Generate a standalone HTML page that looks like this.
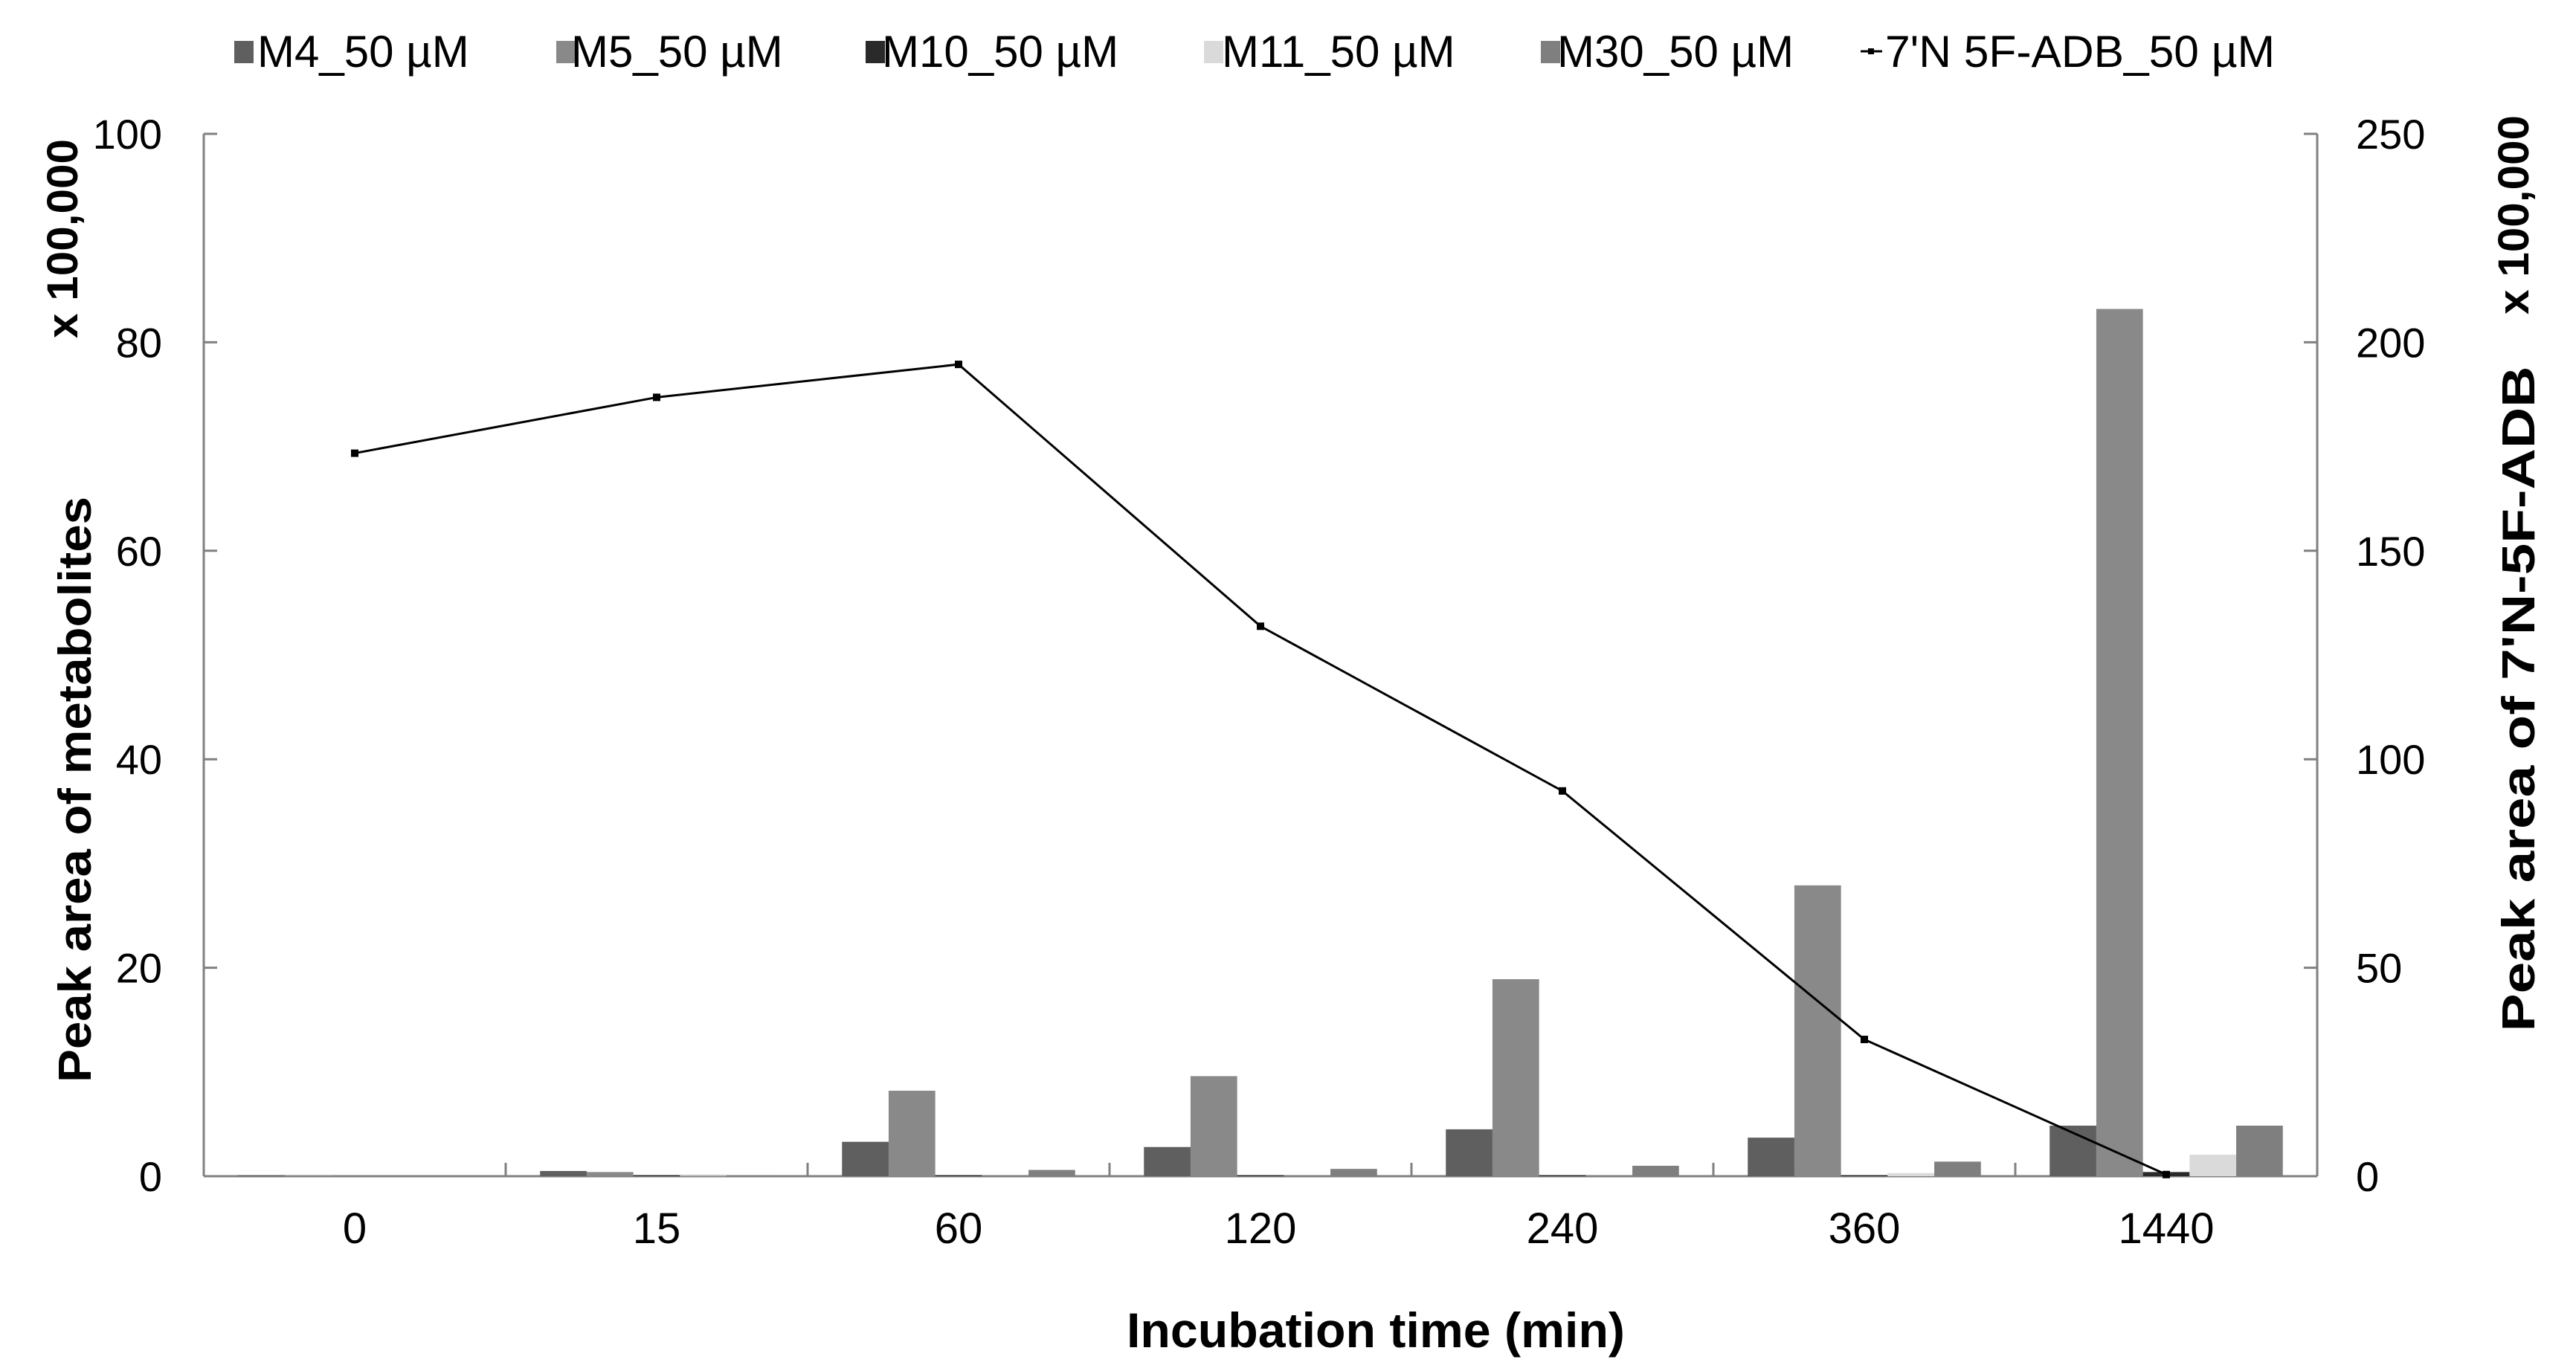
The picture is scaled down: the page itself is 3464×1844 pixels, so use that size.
<!DOCTYPE html>
<html><head><meta charset="utf-8"><style>
html,body{margin:0;padding:0;background:#fff;}
svg{display:block;font-family:"Liberation Sans",Arial,sans-serif;}
</style></head><body>
<svg id="chart" width="3464" height="1844" viewBox="0 0 3464 1844" xmlns="http://www.w3.org/2000/svg">
<g id="legend"></g>
<g id="axes"></g>
<g id="bars"></g>
<g id="line"></g>
<text x="0" y="0" transform="translate(122,1062) rotate(-90)" text-anchor="middle" font-weight="bold" font-size="62" textLength="788" lengthAdjust="spacingAndGlyphs">Peak  area of metabolites</text>
<text x="0" y="0" transform="translate(104,321) rotate(-90)" text-anchor="middle" font-weight="bold" font-size="58" textLength="268" lengthAdjust="spacingAndGlyphs">x 100,000</text>
<text x="0" y="0" transform="translate(3408,940) rotate(-90)" text-anchor="middle" font-weight="bold" font-size="62" textLength="895" lengthAdjust="spacingAndGlyphs">Peak area of 7'N-5F-ADB</text>
<text x="0" y="0" transform="translate(3400,289) rotate(-90)" text-anchor="middle" font-weight="bold" font-size="58" textLength="268" lengthAdjust="spacingAndGlyphs">x 100,000</text>
<text x="1850" y="1812" text-anchor="middle" font-weight="bold" font-size="66" textLength="670" lengthAdjust="spacingAndGlyphs">Incubation time (min)</text>
</svg>
<script>
const categories = ["0","15","60","120","240","360","1440"];
const seriesNames = ["M4_50 µM","M5_50 µM","M10_50 µM","M11_50 µM","M30_50 µM"];
const m4 = [0.1,0.5,3.3,2.8,4.5,3.7,4.85];
const m5 = [0.1,0.4,8.2,9.6,18.9,27.9,83.2];
const m10 = [0,0.1,0.1,0.1,0.1,0.1,0.4];
const m11 = [0,0.05,0,0,0,0.3,2.07];
const m30 = [0,0.1,0.6,0.7,1.0,1.4,4.85];
const parentValues = [173.4,186.8,194.7,131.9,92.4,32.8,0.4];
const leftTicks = [0,20,40,60,80,100];
const rightTicks = [0,50,100,150,200,250];
const lineName = "7'N 5F-ADB_50 µM";

const NS="http://www.w3.org/2000/svg";
const L=274,R=3116,T=180,B=1582;
const colors=["#5f5f5f","#898989","#2a2a2a","#dadada","#7f7f7f"];
const series=[m4,m5,m10,m11,m30];
const catW=(R-L)/categories.length, barW=62.7, groupOff=(catW-barW*5)/2;
function yL(v){return B-(v/100)*(B-T);}
function yR(v){return B-(v/250)*(B-T);}
function xCat(i){return L+i*catW;}
function mk(tag,attrs,parent){const e=document.createElementNS(NS,tag);for(const k in attrs)e.setAttribute(k,attrs[k]);parent.appendChild(e);return e;}
const axes=document.getElementById('axes'),bars=document.getElementById('bars'),line=document.getElementById('line'),legend=document.getElementById('legend');

let a=mk('line',{x1:L,y1:T,x2:L,y2:B,stroke:'#808080','stroke-width':3},axes);


a=mk('line',{x1:R,y1:T,x2:R,y2:B,stroke:'#808080','stroke-width':3},axes);


a=mk('line',{x1:L,y1:B,x2:R,y2:B,stroke:'#808080','stroke-width':3},axes);


leftTicks.forEach(v=>{
  const y=yL(v);
  mk('line',{x1:L,y1:y,x2:L+18,y2:y,stroke:'#808080','stroke-width':3},axes);
  const t=mk('text',{x:218,y:y+20,'text-anchor':'end','font-size':56},axes);
  t.textContent=v;
  
  
});
rightTicks.forEach(v=>{
  const y=yR(v);
  mk('line',{x1:R-18,y1:y,x2:R,y2:y,stroke:'#808080','stroke-width':3},axes);
  const t=mk('text',{x:3168,y:y+20,'text-anchor':'start','font-size':56},axes);
  t.textContent=v;
  
  
});
categories.forEach((c,i)=>{
  if(i>0) mk('line',{x1:xCat(i),y1:B,x2:xCat(i),y2:B-18,stroke:'#808080','stroke-width':3},axes);
  const t=mk('text',{x:xCat(i)+catW/2,y:1672,'text-anchor':'middle','font-size':58},axes);
  t.textContent=c;
  
  
});
series.forEach((s,si)=>{
  s.forEach((v,i)=>{
    const x=xCat(i)+groupOff+si*barW, y=yL(v);
    const r=mk('rect',{x:x,y:y,width:barW,height:Math.max(0,B-y),fill:colors[si]},bars);
    
    
  });
});
const pts=parentValues.map((v,i)=>[xCat(i)+catW/2,yR(v)]);
const pl=mk('polyline',{points:pts.map(p=>p.join(',')).join(' '),fill:'none',stroke:'#000','stroke-width':3},line);


pts.forEach(p=>{
  const m=mk('rect',{x:p[0]-5,y:p[1]-5,width:10,height:10,fill:'#000'},line);
  
  
});
const sqX=[315,748,1164,1619,2072], txX=[346,768,1186,1643,2094];
seriesNames.forEach((n,i)=>{
  const g=mk('g',{},legend);
  
  
  mk('rect',{x:sqX[i],y:55,width:26,height:30,fill:colors[i]},g);
  const t=mk('text',{x:txX[i],y:90,'font-size':60},g);
  t.textContent=n;
});
const lg=mk('g',{},legend);


mk('line',{x1:2502,y1:69,x2:2531,y2:69,stroke:'#000','stroke-width':3},lg);
mk('rect',{x:2512,y:65,width:8,height:8,fill:'#000'},lg);
const lt=mk('text',{x:2535,y:90,'font-size':60,textLength:524,lengthAdjust:'spacingAndGlyphs'},lg);
lt.textContent=lineName;
</script>
</body></html>
